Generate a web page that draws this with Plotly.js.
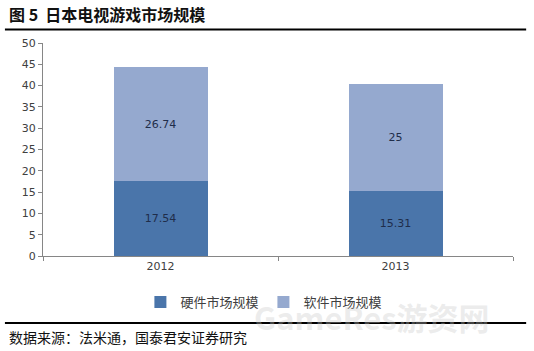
<!DOCTYPE html>
<html>
<head>
<meta charset="utf-8">
<script src="https://cdn.plot.ly/plotly-3.0.1.min.js"></script>
<style>html,body{margin:0;padding:0;background:#fff;}#chart{width:534px;height:351px;}</style>
</head>
<body>
<div id="chart"></div>
<script>
const categories = ['2012', '2013'];
const hardware = [17.54, 15.31];
const software = [26.74, 25];
const hardwareName = '硬件市场规模';
const softwareName = '软件市场规模';
const yTicks = [0, 5, 10, 15, 20, 25, 30, 35, 40, 45, 50];
const titleText = '图 5  日本电视游戏市场规模';
const sourceText = '数据来源：法米通，国泰君安证券研究';
const watermarkText = 'GameRes游资网';

const cjk = '"Noto Sans CJK SC", "Noto Sans", sans-serif';
const num = '"DejaVu Sans", Verdana, sans-serif';

const traces = [
  {
    type: 'bar', name: hardwareName, x: categories, y: hardware,
    text: hardware.map(String), textposition: 'inside', insidetextanchor: 'middle',
    textfont: {family: num, size: 11, color: '#1f2d4a'},
    marker: {color: '#4a75aa'}, hoverinfo: 'none'
  },
  {
    type: 'bar', name: softwareName, x: categories, y: software,
    text: software.map(String), textposition: 'inside', insidetextanchor: 'middle',
    textfont: {family: num, size: 11, color: '#1f2d4a'},
    marker: {color: '#95a9cf'}, hoverinfo: 'none'
  }
];

const layout = {
  width: 534, height: 351,
  margin: {l: 43, r: 21, t: 43, b: 95},
  paper_bgcolor: '#fff', plot_bgcolor: '#fff',
  barmode: 'stack', bargap: 0.6,
  showlegend: true,
  legend: {
    orientation: 'h', x: 0.47, xanchor: 'center', y: -0.216, yanchor: 'middle',
    font: {family: cjk, size: 13, color: '#404040'}, itemwidth: 30, traceorder: 'normal'
  },
  xaxis: {
    type: 'category', showline: true, linecolor: '#868686', linewidth: 1,
    ticks: 'outside', tickson: 'boundaries', ticklen: 4, tickcolor: '#868686',
    tickfont: {family: num, size: 11, color: '#404040'}, showgrid: false, zeroline: false
  },
  yaxis: {
    range: [0, 50], tickvals: yTicks, ticktext: yTicks.map(String),
    showline: true, linecolor: '#868686', linewidth: 1,
    ticks: 'outside', ticklen: 4, tickcolor: '#868686',
    tickfont: {family: num, size: 11, color: '#404040'}, showgrid: false, zeroline: false
  },
  shapes: [
    {type: 'line', xref: 'paper', yref: 'paper', x0: -0.081, x1: 1.028, y0: 1.0634, y1: 1.0634,
     line: {color: '#000', width: 2}},
    {type: 'line', xref: 'paper', yref: 'paper', x0: -0.081, x1: 1.028, y0: -0.3146, y1: -0.3146,
     line: {color: '#000', width: 2}}
  ],
  annotations: [
    {text: '<b>' + titleText + '</b>', xref: 'paper', yref: 'paper', x: -0.077, xanchor: 'left',
     y: 1.135, yanchor: 'middle', showarrow: false, font: {family: cjk, size: 16, color: '#111'}},
    {text: sourceText, xref: 'paper', yref: 'paper', x: -0.077, xanchor: 'left',
     y: -0.38, yanchor: 'middle', showarrow: false, font: {family: cjk, size: 14, color: '#111'}},
    {text: '<b>' + watermarkText + '</b>', xref: 'paper', yref: 'paper', x: 0.70, xanchor: 'center',
     y: -0.285, yanchor: 'middle', showarrow: false, font: {family: cjk, size: 31, color: 'rgba(200,200,200,0.35)'}}
  ]
};

Plotly.newPlot('chart', traces, layout, {staticPlot: true, displayModeBar: false});
</script>
</body>
</html>
